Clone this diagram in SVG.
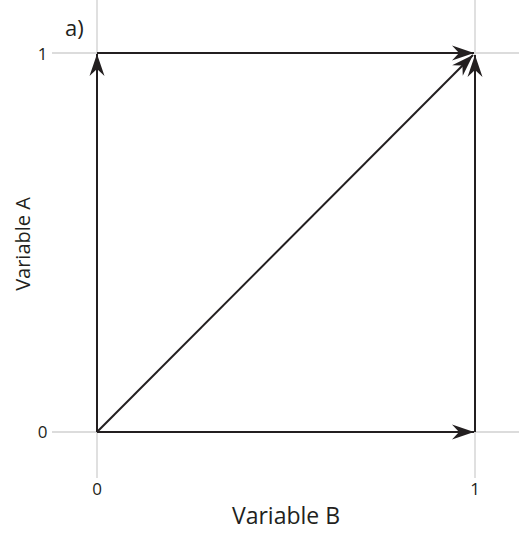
<svg xmlns="http://www.w3.org/2000/svg" width="519" height="536" viewBox="0 0 519 536">
<style>
.grid{stroke:#d0d0d0;stroke-width:1.3;fill:none}
.edge{stroke:#231f20;stroke-width:2;fill:none}
.lbl{font-family:"Open Sans","Liberation Sans",sans-serif;fill:#231f20}
</style>
<defs>
<marker id="ah" markerUnits="userSpaceOnUse" markerWidth="26" markerHeight="18" viewBox="-24 -9 26 18" refX="0" refY="0" orient="auto">
<path d="M0,0 L-22,-7.5 L-15,0 L-22,7.5 Z" fill="#231f20"/>
</marker>
</defs>
<rect width="519" height="536" fill="#fff"/>
<g id="grid">
<line class="grid" x1="97" y1="0" x2="97" y2="478"/>
<line class="grid" x1="475" y1="0" x2="475" y2="478"/>
<line class="grid" x1="52" y1="53" x2="519" y2="53"/>
<line class="grid" x1="52" y1="432" x2="519" y2="432"/>
</g>
<g id="connectors">
<line class="edge" x1="97" y1="432" x2="97" y2="54" marker-end="url(#ah)"/>
<line class="edge" x1="97" y1="53" x2="474" y2="53" marker-end="url(#ah)"/>
<line class="edge" x1="97" y1="432" x2="474" y2="432" marker-end="url(#ah)"/>
<line class="edge" x1="475" y1="432" x2="475" y2="55" marker-end="url(#ah)"/>
<line class="edge" x1="97" y1="432" x2="473" y2="55" marker-end="url(#ah)"/>
</g>
<g id="labels">
<text class="lbl" x="65" y="36" font-size="22">a)</text>
<text class="lbl" x="42.5" y="60" font-size="17" text-anchor="middle">1</text>
<text class="lbl" x="42.5" y="438" font-size="17" text-anchor="middle">0</text>
<text class="lbl" x="97" y="495" font-size="17" text-anchor="middle">0</text>
<text class="lbl" x="475" y="495" font-size="17" text-anchor="middle">1</text>
<text class="lbl" x="286" y="524" font-size="23" text-anchor="middle">Variable B</text>
<text class="lbl" x="0" y="0" font-size="20" text-anchor="middle" transform="translate(30,244) rotate(-90)">Variable A</text>
</g>
</svg>
